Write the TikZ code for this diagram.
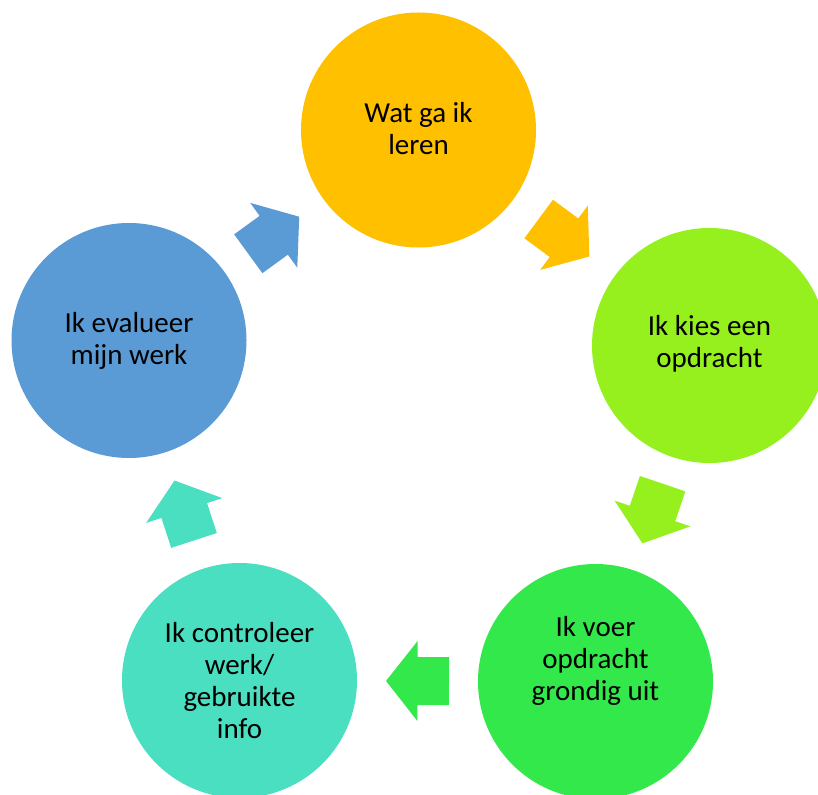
\documentclass[tikz,border=0pt]{standalone}
\usepackage{fontspec}
\setmainfont{Carlito}
\usetikzlibrary{calc}
\definecolor{cA}{HTML}{FFC000}
\definecolor{cB}{HTML}{96F01E}
\definecolor{cC}{HTML}{33E84A}
\definecolor{cD}{HTML}{4ADFC0}
\definecolor{cE}{HTML}{5B9BD5}
\newcommand{\cyclearrow}[3]{%
  \coordinate (m#1#2) at ($(#1)!0.5!(#2)$);
  \coordinate (t#1#2) at ($(m#1#2)!31.5pt!180:(#2)$);
  \fill[#3]
    ($(t#1#2)!24pt!90:(#2)$) --
    ($(m#1#2)!24pt!90:(#2)$) --
    ($(m#1#2)!40pt!90:(#2)$) --
    ($(m#1#2)!31.5pt!(#2)$) --
    ($(m#1#2)!40pt!-90:(#2)$) --
    ($(m#1#2)!24pt!-90:(#2)$) --
    ($(t#1#2)!24pt!-90:(#2)$) -- cycle;
}
\begin{document}
\begin{tikzpicture}[x=1pt,y=-1pt,
  stage/.style={circle, minimum size=235pt, inner sep=0pt},
  lbl/.style={align=center, font=\fontsize{29}{32}\selectfont, text=black, inner sep=0pt}]
\useasboundingbox (0,0) rectangle (818,794);
\clip (0,0) rectangle (818,794);
\fill[white] (0,0) rectangle (818,794);
\node[stage, fill=cA] (c1) at (418.5,130) {};
\node[stage, fill=cB] (c2) at (709.5,345.5) {};
\node[stage, fill=cC] (c3) at (595.5,681.5) {};
\node[stage, fill=cD] (c4) at (239.5,680.5) {};
\node[stage, fill=cE] (c5) at (129,340.5) {};
\node[lbl] (l1) at ($(c1)+(0,-1)$) {Wat ga ik\\leren};
\node[lbl] (l2) at ($(c2)+(0,-1.5)$) {Ik kies een\\opdracht};
\node[lbl] (l3) at ($(c3)+(0,-21)$) {Ik voer\\opdracht\\grondig uit};
\node[lbl] (l4) at ($(c4)+(0,0)$) {Ik controleer\\werk/\\gebruikte\\info};
\node[lbl] (l5) at ($(c5)+(0,0.5)$) {Ik evalueer\\mijn werk};
\cyclearrow{c1}{c2}{cA}
\cyclearrow{c2}{c3}{cB}
\cyclearrow{c3}{c4}{cC}
\cyclearrow{c4}{c5}{cD}
\cyclearrow{c5}{c1}{cE}
\end{tikzpicture}
\end{document}
